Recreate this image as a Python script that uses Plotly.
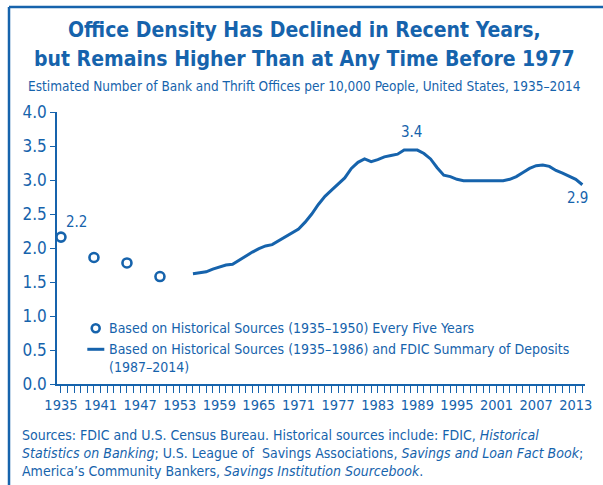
import plotly.graph_objects as go

BLUE = "#1663AC"
FONT = "DejaVu Sans Condensed, Liberation Sans Narrow, Arial Narrow, Roboto, sans-serif"

# Historical points every five years
hist_years = [1935, 1940, 1945, 1950]
hist_vals = [2.16, 1.86, 1.78, 1.58]

# Annual series
line_years = list(range(1955, 2015))
line_vals = [1.62, 1.63, 1.65, 1.69, 1.72, 1.75, 1.76, 1.82, 1.89, 1.94,
             1.99, 2.03, 2.05, 2.11, 2.17, 2.22, 2.28, 2.38, 2.50, 2.64,
             2.76, 2.85, 2.94, 3.03, 3.17, 3.26, 3.31, 3.27, 3.30, 3.34,
             3.36, 3.38, 3.44, 3.44, 3.44, 3.39, 3.31, 3.18, 3.07, 3.05,
             3.01, 2.99, 2.99, 2.99, 2.99, 3.00, 2.99, 2.99, 3.01, 3.05,
             3.11, 3.17, 3.21, 3.22, 3.20, 3.14, 3.10, 3.06, 3.01, 2.93]

x_tick_vals = list(range(1935, 2014, 6))
y_tick_vals = [0, 0.5, 1.0, 1.5, 2.0, 2.5, 3.0, 3.5, 4.0]

labels = [(1935, 2.16, "2.2", 3, 15, "left"),
          (1988, 3.44, "3.4", 1, 18, "center"),
          (2014, 2.93, "2.9", -5, -13, "center")]

legend_texts = ["Based on Historical Sources (1935–1950) Every Five Years",
                "Based on Historical Sources (1935–1986) and FDIC Summary of Deposits<br>(1987–2014)"]

fig = go.Figure()
fig.add_trace(go.Scatter(
    x=hist_years, y=hist_vals, mode="markers",
    marker=dict(symbol="circle-open", size=9, color=BLUE, line=dict(width=2.6, color=BLUE)),
    name=legend_texts[0], showlegend=False))
fig.add_trace(go.Scatter(
    x=line_years, y=line_vals, mode="lines",
    line=dict(color=BLUE, width=3),
    name=legend_texts[1], showlegend=False))

for x, y, t, xs, ys, al in labels:
    fig.add_annotation(x=x, y=y, text=t, showarrow=False, xshift=xs, yshift=ys,
                       xanchor=al, yanchor="middle", font=dict(family=FONT, size=15, color=BLUE))

# custom legend
fig.add_shape(type="circle", xref="paper", yref="paper", x0=0.0733 - 0.0075, x1=0.0733 + 0.0075,
              y0=0.2048 - 0.0146, y1=0.2048 + 0.0146, line=dict(color=BLUE, width=2.6))
fig.add_shape(type="line", xref="paper", yref="paper", x0=0.0574, x1=0.0896, y0=0.1276, y1=0.1276,
              line=dict(color=BLUE, width=3))
fig.add_annotation(xref="paper", yref="paper", x=0.0956, y=0.2048, xanchor="left", yanchor="middle",
                   align="left", text=legend_texts[0], showarrow=False,
                   font=dict(family=FONT, size=14, color=BLUE))
fig.add_annotation(xref="paper", yref="paper", x=0.0956, y=0.0956, xanchor="left", yanchor="middle",
                   align="left", text=legend_texts[1], showarrow=False,
                   font=dict(family=FONT, size=14, color=BLUE))

fig.add_annotation(xref="paper", yref="paper", x=0.468, y=1.3015, xanchor="center", yanchor="middle",
                   text="<b>Office Density Has Declined in Recent Years,</b>",
                   showarrow=False, font=dict(family=FONT, size=21, color=BLUE))
fig.add_annotation(xref="paper", yref="paper", x=0.468, y=1.1959, xanchor="center", yanchor="middle",
                   text="<b>but Remains Higher Than at Any Time Before 1977</b>",
                   showarrow=False, font=dict(family=FONT, size=21, color=BLUE))
fig.add_annotation(xref="paper", yref="paper", x=0.468, y=1.0956, xanchor="center", yanchor="middle",
                   text="Estimated Number of Bank and Thrift Offices per 10,000 People, United States, 1935–2014",
                   showarrow=False, font=dict(family=FONT, size=13.5, color=BLUE))
fig.add_annotation(xref="paper", yref="paper", x=-0.07, y=-0.151, xanchor="left", yanchor="top", align="left",
                   text="Sources: FDIC and U.S. Census Bureau. Historical sources include: FDIC, <i>Historical</i><br>"
                        "<i>Statistics on Banking</i>; U.S. League of  Savings Associations, <i>Savings and Loan Fact Book</i>;<br>"
                        "America’s Community Bankers, <i>Savings Institution Sourcebook</i>.",
                   showarrow=False, font=dict(family=FONT, size=14, color=BLUE))

# frame lines (left and top)
fig.add_shape(type="line", xref="paper", yref="paper", x0=-0.0909, x1=-0.0909, y0=1.386, y1=-0.4,
              line=dict(color=BLUE, width=2.5))
fig.add_shape(type="line", xref="paper", yref="paper", x0=-0.0909, x1=1.1, y0=1.386, y1=1.386,
              line=dict(color=BLUE, width=2.5))

fig.update_layout(
    width=603, height=485,
    margin=dict(l=57, r=18, t=112, b=101),
    paper_bgcolor="white", plot_bgcolor="white",
    font=dict(family=FONT, color=BLUE),
    showlegend=False,
    xaxis=dict(range=[1934.4, 2014.4], tickmode="array", tickvals=x_tick_vals,
               ticktext=[str(v) for v in x_tick_vals],
               showgrid=False, zeroline=False, showline=True, linecolor=BLUE, linewidth=1.5,
               ticks="outside", ticklen=7, tickcolor=BLUE, tickwidth=1.2,
               minor=dict(dtick=1, tick0=1935, ticks="outside", ticklen=7, tickcolor=BLUE, tickwidth=1.2),
               tickfont=dict(family=FONT, size=14.5, color=BLUE)),
    yaxis=dict(range=[0, 4.0], tickmode="array", tickvals=y_tick_vals,
               ticktext=[f"{v:.1f}" for v in y_tick_vals],
               showgrid=False, zeroline=False, showline=True, linecolor=BLUE, linewidth=1.5,
               ticks="outside", ticklen=5, tickcolor=BLUE, tickwidth=1.2,
               tickfont=dict(family=FONT, size=17, color=BLUE)),
)

fig.write_html("out.html", config={"displayModeBar": False},
               post_script="document.body.style.margin='0';document.body.style.overflow='hidden';")
